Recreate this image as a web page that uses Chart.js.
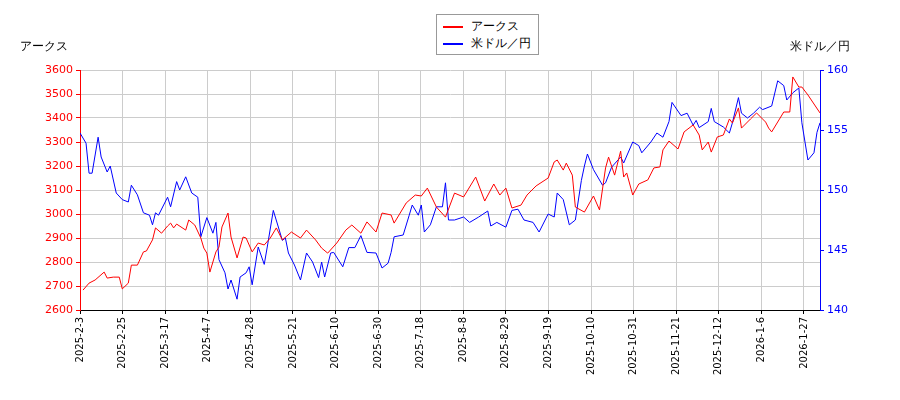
<!DOCTYPE html>
<html>
<head>
<meta charset="utf-8">
<script src="https://cdn.jsdelivr.net/npm/chart.js@4"></script>
<style>
  body { margin: 0; background: #fff; font-family: "DejaVu Sans", sans-serif; }
  #wrap { position: relative; width: 900px; height: 400px; }
  .title { position: absolute; top: 38px; font-size: 12px; color: #000; }
  #legend { position: absolute; left: 436px; top: 14px; width: 103px; height: 41px; border: 1px solid #999;
            background: #fff; font-size: 12px; box-sizing: border-box; padding: 3px 6px; }
  #legend div { height: 17px; line-height: 17px; }
  #legend span { display: inline-block; width: 20px; height: 2px; vertical-align: middle; margin-right: 8px; }
</style>
</head>
<body>
<div id="wrap">
  <canvas id="myChart" width="900" height="400"></canvas>
  <div class="title" style="left:20px">アークス</div>
  <div class="title" style="left:790px">米ドル／円</div>
  <div id="legend">
    <div><span style="background:#f00"></span>アークス</div>
    <div><span style="background:#00f"></span>米ドル／円</div>
  </div>
</div>
<script>
const dateLabels = ['2025-2-3', '2025-2-25', '2025-3-17', '2025-4-7', '2025-4-28', '2025-5-21', '2025-6-10',
  '2025-6-30', '2025-7-18', '2025-8-8', '2025-8-29', '2025-9-19', '2025-10-10', '2025-10-31', '2025-11-21',
  '2025-12-12', '2026-1-6', '2026-1-27'];
const labelStep = 14.1;

const redX = [1,3,5,8,9,11,13,14,16,17,19,21,22,24,25,27,29,30,31,32,35,36,38,40,41,42,43,45,46,47,49,50,52,54,55,57,59,
  61,63,65,67,70,73,75,78,80,82,85,88,90,93,95,98,100,103,104,108,111,113,115,118,121,124,127,131,134,137,139,141,143,
  146,148,151,155,157,158,160,161,163,164,167,170,172,174,175,177,179,180,181,183,185,188,190,192,193,195,198,200,203,
  205,206,208,209,211,213,215,216,218,219,222,224,227,228,229,233,235,236,238,239,241,245];
const redY = [2683,2712,2725,2758,2733,2737,2737,2688,2712,2787,2787,2842,2846,2892,2942,2920,2950,2962,2942,2958,2933,
  2975,2954,2900,2858,2837,2758,2842,2862,2946,3004,2904,2817,2904,2900,2842,2879,2871,2900,2942,2892,2925,2900,2933,
  2892,2858,2837,2879,2933,2954,2920,2967,2925,3004,2996,2962,3046,3079,3075,3108,3029,2987,3087,3071,3154,3054,3125,
  3079,3108,3025,3037,3079,3117,3150,3217,3225,3183,3212,3162,3029,3008,3075,3017,3192,3237,3162,3262,3154,3171,3079,
  3125,3142,3192,3196,3267,3304,3271,3342,3371,3329,3267,3300,3258,3321,3329,3396,3379,3442,3358,3396,3421,3383,3358,
  3342,3425,3425,3571,3529,3529,3496,3421,3521];

const blueX = [0,2,3,4,6,7,9,10,12,14,16,17,19,21,23,24,25,26,29,30,32,33,35,37,39,40,42,44,45,46,48,49,50,52,53,55,56,
  57,59,61,62,64,67,68,69,71,73,75,77,79,80,81,83,84,87,89,91,93,95,98,100,102,103,104,107,109,110,112,113,114,116,
  118,120,121,122,124,127,129,132,135,136,138,141,143,145,147,150,152,155,157,158,160,162,164,166,167,168,170,173,174,
  176,179,180,183,185,186,189,191,193,195,196,199,201,203,204,205,208,209,210,213,215,216,218,219,221,223,225,226,229,
  231,233,234,236,238,239,241,243,244,245];
const blueY = [154.75,153.9,151.4,151.4,154.4,152.75,151.5,152,149.75,149.2,149,150.4,149.6,148.1,147.9,147.1,148.1,
  147.9,149.4,148.6,150.7,150,151.1,149.75,149.4,146.1,147.7,146.4,147.3,144.2,143.1,141.75,142.5,140.9,142.75,143.1,
  143.6,142.1,145.25,143.8,145.25,148.3,145.8,146,144.75,143.75,142.5,144.75,144,142.7,144,142.75,144.75,144.8,143.6,
  145.2,145.2,146.2,144.8,144.75,143.5,143.9,144.8,146.1,146.25,147.9,148.75,147.9,148.75,146.5,147.1,148.6,148.6,150.6,
  147.5,147.5,147.75,147.3,147.75,148.25,147,147.3,146.9,148.3,148.4,147.5,147.3,146.5,148,147.75,149.75,149.2,147.1,
  147.5,150.8,152,153,151.7,150.4,150.6,151.9,152.75,152.25,154,153.7,153.1,154,154.75,154.4,155.7,157.3,156.2,156.4,
  155.4,155.8,155.2,155.7,156.8,155.7,155.25,154.75,155.6,157.7,156.4,156,156.4,156.9,156.7,157,159.1,158.7,157.5,158.1,
  158.5,155.6,152.5,153.1,154.8,155.6];

const toPoints = (xs, ys) => xs.map((x, i) => ({ x: x, y: ys[i] }));

new Chart(document.getElementById('myChart'), {
  type: 'line',
  data: {
    datasets: [
      { label: 'アークス', data: toPoints(redX, redY), borderColor: '#f00', borderWidth: 1, pointRadius: 0, yAxisID: 'y', tension: 0 },
      { label: '米ドル／円', data: toPoints(blueX, blueY), borderColor: '#00f', borderWidth: 1, pointRadius: 0, yAxisID: 'y2', tension: 0 }
    ]
  },
  options: {
    responsive: false,
    animation: false,
    layout: { padding: { top: 70, right: 0, left: 0, bottom: 0 } },
    plugins: { legend: { display: false }, tooltip: { enabled: false } },
    scales: {
      x: {
        type: 'linear', min: 0, max: 245,
        afterFit: s => { s.height = 90; },
        afterBuildTicks: s => { s.ticks = dateLabels.map((d, i) => ({ value: i * labelStep })); },
        ticks: {
          autoSkip: false, maxRotation: 90, minRotation: 90, color: '#000',
          font: { size: 10, family: 'DejaVu Sans' },
          callback: (v, i) => dateLabels[i]
        },
        grid: { color: '#ccc', tickColor: '#000', tickLength: 4 },
        border: { color: '#000' }
      },
      y: {
        position: 'left', min: 2600, max: 3600,
        afterFit: s => { s.width = 80; },
        ticks: {
          stepSize: 50, color: '#f00', font: { size: 11, family: 'DejaVu Sans' },
          callback: v => (v % 100 === 0 ? String(v) : '')
        },
        grid: {
          color: c => (c.tick && c.tick.value % 100 === 0 ? '#ccc' : 'rgba(0,0,0,0)'),
          tickColor: '#f00', tickLength: 4
        },
        border: { color: '#f00' }
      },
      y2: {
        position: 'right', min: 140, max: 160,
        afterFit: s => { s.width = 80; },
        ticks: { stepSize: 5, color: '#00f', font: { size: 11, family: 'DejaVu Sans' } },
        grid: { drawOnChartArea: false, tickColor: '#00f', tickLength: 4 },
        border: { color: '#00f' }
      }
    }
  }
});
</script>
</body>
</html>
